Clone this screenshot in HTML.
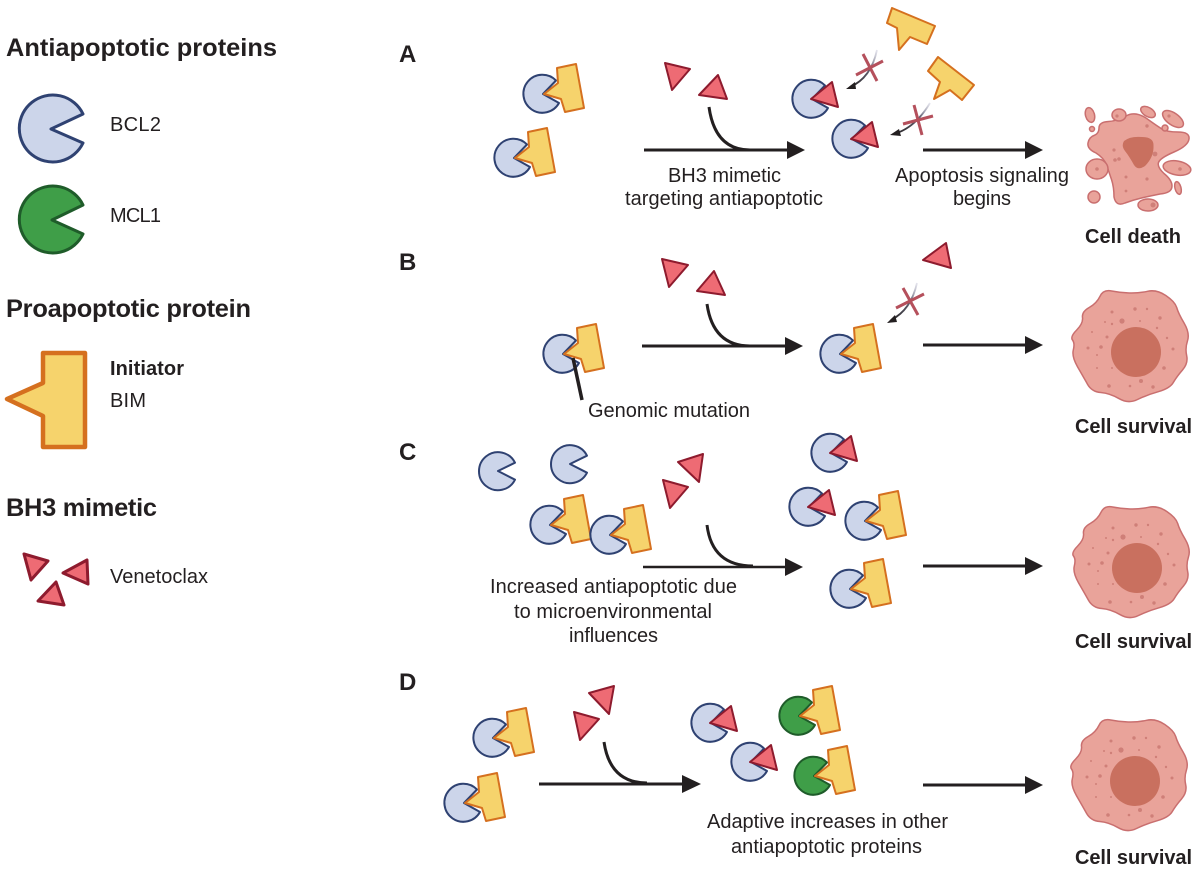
<!DOCTYPE html>
<html>
<head>
<meta charset="utf-8">
<style>
html,body{margin:0;padding:0;background:#fff}
svg{display:block}
text{font-family:"Liberation Sans",sans-serif;fill:#231f20;font-size:20px}
.h{font-weight:bold;font-size:25.4px}
.l{font-weight:bold;font-size:24px}
.b{font-weight:bold}
.pac{fill:#ccd5ea;stroke:#2f4272;stroke-width:2;stroke-linejoin:round}
.grn{fill:#3f9e48;stroke:#1f5c2a;stroke-width:2;stroke-linejoin:round}
.bim{fill:#f6d36c;stroke:#d5701f;stroke-width:2;stroke-linejoin:round}
.tri{fill:#ee6b74;stroke:#8e1b2e;stroke-width:2;stroke-linejoin:round}
.ln{stroke:#231f20;stroke-width:3;fill:none}
.x{stroke:#b5505c;stroke-width:3;fill:none}
.thin{stroke:url(#fade);stroke-width:1.8;fill:none}
.cell{fill:#e9a39a;stroke:#c96f6f;stroke-width:1.5}
.nuc{fill:#c9705f}
.dot{fill:#cf7f78}
</style>
</head>
<body>
<svg width="1200" height="884" viewBox="0 0 1200 884" xmlns="http://www.w3.org/2000/svg">
<defs>
<linearGradient id="fade" x1="1" y1="0" x2="0" y2="1">
<stop offset="0" stop-color="#ccd" stop-opacity=".5"/><stop offset=".35" stop-color="#667"/><stop offset="1" stop-color="#231f20"/>
</linearGradient>
<g id="cx">
<path class="pac" d="M1 0L14 -13.5A19 19 0 1 0 17 9Z"/>
<path class="bim" d="M15 -26L34 -30L42 14L23 18L19 5L2 0L16 -11Z"/>
</g>
<g id="gx">
<path class="grn" d="M1 0L14 -13.5A19 19 0 1 0 17 9Z"/>
<path class="bim" d="M15 -26L34 -30L42 14L23 18L19 5L2 0L16 -11Z"/>
</g>
<g id="mx">
<path class="pac" d="M1 0L14 -13.5A19 19 0 1 0 17 9Z"/>
<path class="tri" d="M0 0L21 -17L27 8Z"/>
</g>
<g id="cell">
<path class="cell" d="M-30 -48.7Q-26.7 -55.7 -18.3 -54Q-10 -52.3 -0.8 -52Q8.3 -51.7 17.5 -53.7Q26.7 -55.7 35.8 -49.5Q45 -43.3 46.7 -37.5Q48.3 -31.7 54.2 -21.7Q60 -11.7 57.5 -4.2Q55 3.3 56.7 10.8Q58.3 18.3 52.5 25Q46.7 31.7 43.3 37.5Q40 43.3 28.3 46.7Q16.7 50 7.5 54.5Q-1.7 59 -10.8 53.7Q-20 48.3 -29.2 47.5Q-38.3 46.7 -42.5 39.2Q-46.7 31.7 -52.5 21.7Q-58.3 11.7 -56.7 5Q-55 -1.7 -57.5 -5Q-60 -8.3 -53.3 -15Q-46.7 -21.7 -47.5 -27.5Q-48.3 -33.3 -40.8 -37.5Q-33.3 -41.7 -30 -48.7Z"/>
<circle class="nuc" cx="6" cy="7" r="25"/>
<g class="dot">
<circle cx="-18" cy="-33" r="1.5"/><circle cx="5" cy="-36" r="1.7"/><circle cx="17" cy="-36" r="1.2"/><circle cx="-8" cy="-24" r="2.6"/><circle cx="-25" cy="-23" r="1"/><circle cx="-18" cy="-21" r="1.2"/><circle cx="10" cy="-24" r="1"/><circle cx="30" cy="-27" r="1.7"/><circle cx="27" cy="-17" r="1.2"/><circle cx="-38" cy="-13" r="1"/><circle cx="-23" cy="-8" r="1.5"/><circle cx="37" cy="-7" r="1.2"/><circle cx="-42" cy="3" r="1.5"/><circle cx="-29" cy="2" r="1.8"/><circle cx="43" cy="4" r="1.5"/><circle cx="-33" cy="10" r="1"/><circle cx="-33" cy="23" r="1"/><circle cx="-18" cy="23" r="1"/><circle cx="34" cy="23" r="1.8"/><circle cx="11" cy="36" r="2"/><circle cx="-21" cy="41" r="1.8"/><circle cx="0" cy="41" r="1.3"/><circle cx="23" cy="42" r="1.7"/>
</g>
</g>
</defs>

<!-- Legend -->
<text class="h" x="6" y="56" textLength="271" lengthAdjust="spacing">Antiapoptotic proteins</text>
<path d="M51 129L83 114A33.5 33.5 0 1 0 83 143Z" fill="#ccd5ea" stroke="#2f4272" stroke-width="3" stroke-linejoin="round"/>
<text x="110" y="131" textLength="51" lengthAdjust="spacing">BCL2</text>
<path d="M52 220L83 205A33.5 33.5 0 1 0 83 234Z" fill="#3f9e48" stroke="#1f5c2a" stroke-width="3" stroke-linejoin="round"/>
<text x="110" y="222" textLength="51" lengthAdjust="spacing">MCL1</text>
<text class="h" x="6" y="317" textLength="245" lengthAdjust="spacing">Proapoptotic protein</text>
<path d="M43 353L85 353L85 447L43 447L43 416L7 399L43 383Z" fill="#f6d36c" stroke="#d5701f" stroke-width="4.5" stroke-linejoin="round"/>
<text class="b" x="110" y="375" textLength="74" lengthAdjust="spacing">Initiator</text>
<text x="110" y="407" textLength="36" lengthAdjust="spacing">BIM</text>
<text class="h" x="6" y="516" textLength="151" lengthAdjust="spacing">BH3 mimetic</text>
<g class="tri" style="stroke-width:3">
<path d="M24 554L48 561L31 580Z"/><path d="M87 560L88 584L63 573Z"/><path d="M56 582L64 605L38 601Z"/>
</g>
<text x="110" y="583" textLength="98" lengthAdjust="spacing">Venetoclax</text>

<!-- Panel letters -->
<text class="l" x="399" y="62">A</text>
<text class="l" x="399" y="270">B</text>
<text class="l" x="399" y="460">C</text>
<text class="l" x="399" y="690">D</text>

<!-- Panel A -->
<use href="#cx" x="542" y="94"/>
<use href="#cx" x="513" y="158"/>
<path class="tri" d="M665 63L690 69L672 90Z"/><path class="tri" d="M718 75L727 99L699 95Z"/>
<path class="ln" d="M644 150H790"/><path d="M787 141L805 150L787 159Z" fill="#231f20"/>
<path class="ln" d="M709 107Q715 150 750 150"/>
<use href="#mx" x="811" y="99"/>
<use href="#mx" x="851" y="139"/>
<path class="bim" d="M892 8L935 26L927 44L910 37L899 50L897 28L887 23Z"/>
<path class="bim" d="M938 57L974 85L962 100L950 90L934 99L940 82L928 71Z"/>
<path class="thin" d="M877 50Q871 78 850 87"/><path d="M846 89L855 82L856 89Z" fill="#231f20"/>
<path class="x" d="M863 54L877 81M856 75L883 61"/>
<path class="thin" d="M930 103Q915 128 894 134"/><path d="M890 135L899 129L901 136Z" fill="#231f20"/>
<path class="x" d="M914 105L922 135M903 124L933 116"/>
<path class="ln" d="M923 150H1028"/><path d="M1025 141L1043 150L1025 159Z" fill="#231f20"/>
<text x="668" y="182" textLength="113" lengthAdjust="spacing">BH3 mimetic</text>
<text x="625" y="205" textLength="198" lengthAdjust="spacing">targeting antiapoptotic</text>
<text x="895" y="182" textLength="174" lengthAdjust="spacing">Apoptosis signaling</text>
<text x="953" y="205" textLength="58" lengthAdjust="spacing">begins</text>

<!-- Cell death -->
<g>
<path class="cell" d="M1099 128Q1099 122 1108.5 121.5Q1117 121 1126 116Q1135 111 1146 118Q1157 126 1162 129Q1167 132 1178 132Q1190 132 1189 139Q1188 146 1174 152Q1160 158 1158.5 162.5Q1157 167 1164 173.5Q1172 180 1172 186Q1172 193 1160 194Q1150 196 1141.5 198Q1133 200 1125 203Q1116 207 1114 197Q1114 187 1111.5 179.5Q1109 172 1106.5 165Q1104 158 1096 153Q1087 149 1088 143Q1089 137 1095 135Q1099 133 1099 128Z"/>
<path class="nuc" d="M1124 141Q1130 136 1142 137Q1154 137 1153.5 146Q1154 157 1145 166Q1138 171 1134 165Q1129 156 1125 151Q1121 146 1124 141Z"/>
<ellipse class="cell" cx="1090" cy="115" rx="4.5" ry="7.5" transform="rotate(-15 1090 115)"/>
<ellipse class="cell" cx="1119" cy="115" rx="7" ry="6"/>
<ellipse class="cell" cx="1148" cy="112" rx="8" ry="4.5" transform="rotate(30 1148 112)"/>
<ellipse class="cell" cx="1173" cy="119" rx="12" ry="6" transform="rotate(35 1173 119)"/>
<circle class="cell" cx="1092" cy="129" r="2.5"/>
<circle class="cell" cx="1165" cy="128" r="3"/>
<ellipse class="cell" cx="1097" cy="169" rx="11" ry="10"/>
<ellipse class="cell" cx="1177" cy="168" rx="14" ry="7" transform="rotate(10 1177 168)"/>
<ellipse class="cell" cx="1178" cy="188" rx="3" ry="6.5" transform="rotate(-15 1178 188)"/>
<ellipse class="cell" cx="1094" cy="197" rx="6" ry="6"/>
<ellipse class="cell" cx="1148" cy="205" rx="10" ry="6"/>
<g class="dot">
<circle cx="1117" cy="116" r="1.6"/><circle cx="1169" cy="116" r="1.6"/><circle cx="1097" cy="169" r="1.8"/><circle cx="1180" cy="169" r="1.8"/><circle cx="1153" cy="205" r="2.5"/><circle cx="1147" cy="126" r="1.7"/><circle cx="1114" cy="150" r="1.6"/><circle cx="1115" cy="160" r="1.8"/><circle cx="1126" cy="177" r="1.5"/><circle cx="1147" cy="179" r="1.6"/><circle cx="1126" cy="191" r="1.4"/><circle cx="1155" cy="154" r="2.4"/><circle cx="1119" cy="159" r="1.8"/>
</g>
</g>
<text class="b" x="1085" y="243" textLength="96" lengthAdjust="spacing">Cell death</text>

<!-- Panel B -->
<use href="#cx" x="562" y="354"/>
<path d="M573 358L582 400" stroke="#231f20" stroke-width="3.5"/>
<text x="588" y="417" textLength="162" lengthAdjust="spacing">Genomic mutation</text>
<path class="tri" d="M662 259L688 265L669 287Z"/><path class="tri" d="M714 271L725 295L697 291Z"/>
<path class="ln" d="M642 346H788"/><path d="M785 337L803 346L785 355Z" fill="#231f20"/>
<path class="ln" d="M707 304Q713 346 750 346"/>
<use href="#cx" x="839" y="354"/>
<path class="tri" d="M946 243L951 268L923 260Z"/>
<path class="thin" d="M917 283Q911 310 891 320"/><path d="M887 323L895 315L897 322Z" fill="#231f20"/>
<path class="x" d="M903 288L918 315M896 308L924 294"/>
<path class="ln" d="M923 345H1028"/><path d="M1025 336L1043 345L1025 354Z" fill="#231f20"/>
<use href="#cell" x="1130" y="345"/>
<text class="b" x="1075" y="433" textLength="117" lengthAdjust="spacing">Cell survival</text>

<!-- Panel C -->
<path class="pac" d="M498 471L515 462.7A19 19 0 1 0 515 479.7Z"/>
<path class="pac" d="M570 464L587 455.7A19 19 0 1 0 587 472.7Z"/>
<use href="#cx" x="549" y="525"/>
<use href="#cx" x="609" y="535"/>
<path class="tri" d="M703 454L699 482L678 462Z"/><path class="tri" d="M663 480L688 487L670 508Z"/>
<path class="ln" d="M643 567H788" style="stroke-width:2.5"/><path d="M785 558L803 567L785 576Z" fill="#231f20"/>
<path class="ln" d="M707 525Q712 566 753 566"/>
<text x="490" y="593" textLength="247" lengthAdjust="spacing">Increased antiapoptotic due</text>
<text x="514" y="618" textLength="198" lengthAdjust="spacing">to microenvironmental</text>
<text x="569" y="642" textLength="89" lengthAdjust="spacing">influences</text>
<use href="#mx" x="830" y="453"/>
<use href="#mx" x="808" y="507"/>
<use href="#cx" x="864" y="521"/>
<use href="#cx" x="849" y="589"/>
<path class="ln" d="M923 566H1028"/><path d="M1025 557L1043 566L1025 575Z" fill="#231f20"/>
<use href="#cell" x="1131" y="561"/>
<text class="b" x="1075" y="648" textLength="117" lengthAdjust="spacing">Cell survival</text>

<!-- Panel D -->
<use href="#cx" x="492" y="738"/>
<use href="#cx" x="463" y="803"/>
<path class="tri" d="M614 686L609 714L589 693Z"/><path class="tri" d="M574 712L599 719L580 740Z"/>
<path class="ln" d="M539 784H686"/><path d="M682 775L701 784L682 793Z" fill="#231f20"/>
<path class="ln" d="M604 742Q610 783 647 783"/>
<use href="#mx" x="710" y="723"/>
<use href="#mx" x="750" y="762"/>
<use href="#gx" x="798" y="716"/>
<use href="#gx" x="813" y="776"/>
<text x="707" y="828" textLength="241" lengthAdjust="spacing">Adaptive increases in other</text>
<text x="731" y="853" textLength="191" lengthAdjust="spacing">antiapoptotic proteins</text>
<path class="ln" d="M923 785H1028"/><path d="M1025 776L1043 785L1025 794Z" fill="#231f20"/>
<use href="#cell" x="1129" y="774"/>
<text class="b" x="1075" y="864" textLength="117" lengthAdjust="spacing">Cell survival</text>
</svg>
</body>
</html>
